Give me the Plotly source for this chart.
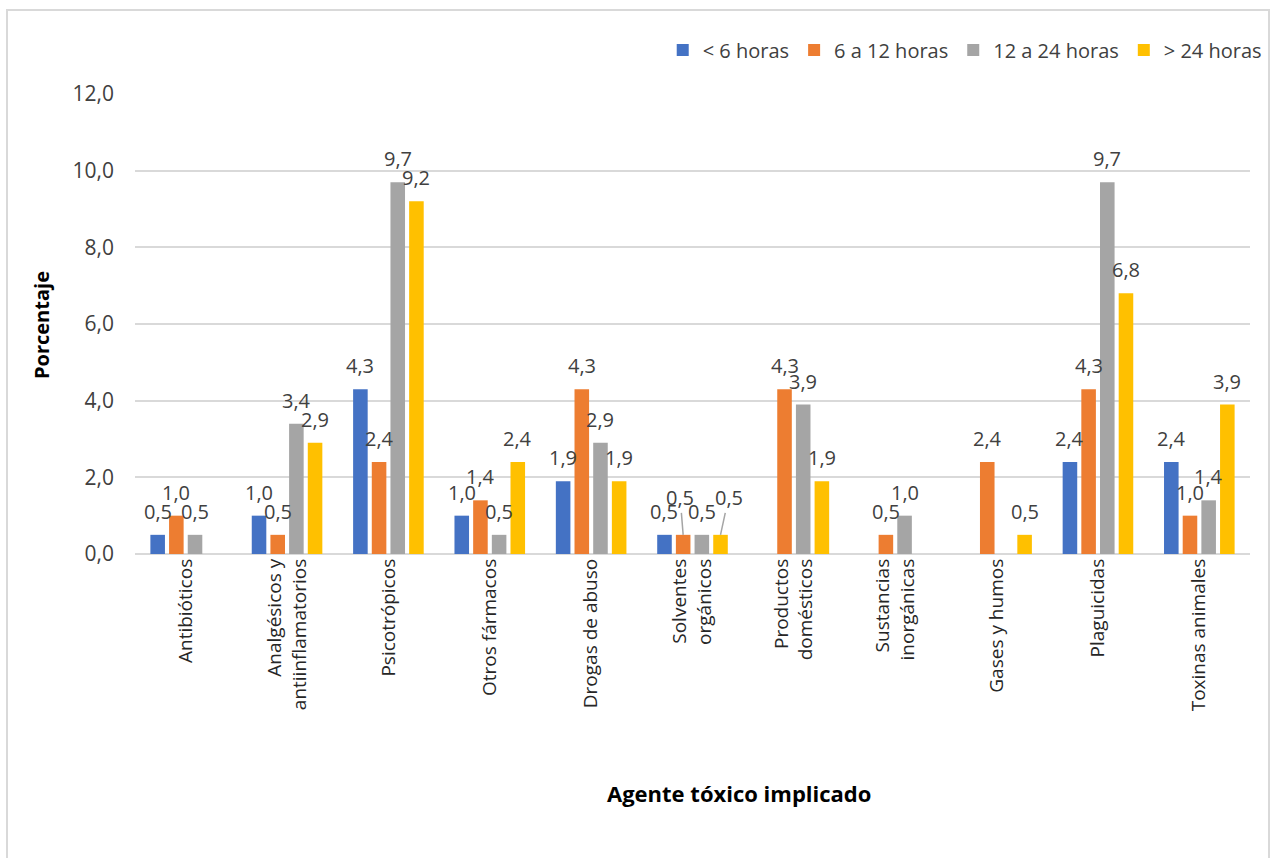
import plotly.graph_objects as go

# Agentes tóxicos (eje X) y porcentaje por tiempo de evolución
agentes = [
    "Antibióticos",
    "Analgésicos y<br>antiinflamatorios",
    "Psicotrópicos",
    "Otros fármacos",
    "Drogas de abuso",
    "Solventes<br>orgánicos",
    "Productos<br>domésticos",
    "Sustancias<br>inorgánicas",
    "Gases y humos",
    "Plaguicidas",
    "Toxinas animales",
]

menos_6h = [0.5, 1.0, 4.3, 1.0, 1.9, 0.5, None, None, None, 2.4, 2.4]
de_6_a_12h = [1.0, 0.5, 2.4, 1.4, 4.3, 0.5, 4.3, 0.5, 2.4, 4.3, 1.0]
de_12_a_24h = [0.5, 3.4, 9.7, 0.5, 2.9, 0.5, 3.9, 1.0, None, 9.7, 1.4]
mas_24h = [None, 2.9, 9.2, 2.4, 1.9, 0.5, 1.9, None, 0.5, 6.8, 3.9]

series = [
    ("< 6 horas", menos_6h, "#4472C4"),
    ("6 a 12 horas", de_6_a_12h, "#ED7D31"),
    ("12 a 24 horas", de_12_a_24h, "#A5A5A5"),
    ("> 24 horas", mas_24h, "#FFC000"),
]

y_ticks = [0, 2, 4, 6, 8, 10, 12]
y_tick_text = ["0,0", "2,0", "4,0", "6,0", "8,0", "10,0", "12,0"]

# Labels moved off their bar (series index, category index) -> (dx, dy) px,
# drawn with a leader line back to the bar top
label_moves = {
    (1, 5): (-3, -37),
    (3, 5): (8, -37),
}

FONT = "Open Sans"
TXT = "#404040"
BARGAP = 0.263
BARGROUPGAP = 0.22


def etiqueta(v):
    return f"{v:.1f}".replace(".", ",")


fig = go.Figure()
for nombre, valores, color in series:
    fig.add_trace(go.Bar(
        name=nombre,
        x=agentes,
        y=valores,
        marker=dict(color=color, line=dict(width=0)),
        cliponaxis=False,
    ))

# Data labels placed above each bar slot of the grouped layout
slot = (1 - BARGAP) / len(series)
labels = []
for k, (_, valores, _) in enumerate(series):
    for i, v in enumerate(valores):
        if v is None:
            continue
        xpos = i + (k - (len(series) - 1) / 2) * slot
        if (k, i) in label_moves:
            dx, dy = label_moves[(k, i)]
            labels.append(dict(
                x=xpos, y=v, xref="x", yref="y", text=etiqueta(v),
                showarrow=True, arrowhead=0, arrowwidth=1.5,
                arrowcolor="#A5A5A5", ax=dx, ay=dy, standoff=0,
                font=dict(family=FONT, size=20, color=TXT),
            ))
        else:
            labels.append(dict(
                x=xpos, y=v, xref="x", yref="y", text=etiqueta(v),
                showarrow=False, yanchor="bottom", yshift=8,
                font=dict(family=FONT, size=20, color=TXT),
            ))

# Plot area: x 135..1250 px, y 94 (12,0) .. 554 (0,0)
L, R, T, B = 135, 27, 94, 304
W, H = 1277, 858
pw, ph = W - L - R, H - T - B


def px_x(x):
    return (x - L) / pw


def px_y(y):
    return (H - B - y) / ph


fig.update_layout(
    width=W, height=H,
    margin=dict(l=L, r=R, t=T, b=B, autoexpand=False),
    paper_bgcolor="white",
    plot_bgcolor="white",
    barmode="group",
    bargap=BARGAP,
    bargroupgap=BARGROUPGAP,
    font=dict(family=FONT, color=TXT),
    showlegend=True,
    legend=dict(
        orientation="h",
        x=1.015, xanchor="right",
        y=px_y(50), yanchor="middle",
        font=dict(family=FONT, size=20, color=TXT),
        itemwidth=30,
        tracegroupgap=0,
        itemclick=False,
    ),
    xaxis=dict(
        type="category",
        tickangle=-90,
        tickfont=dict(family=FONT, size=19, color="#262626"),
        showgrid=False,
        showline=False,
        ticks="",
        fixedrange=True,
    ),
    yaxis=dict(
        range=[0, 12],
        tickvals=y_ticks,
        ticktext=y_tick_text,
        tickfont=dict(family=FONT, size=21, color=TXT),
        showgrid=True,
        gridcolor="#D9D9D9",
        gridwidth=2,
        zeroline=True,
        zerolinecolor="#D9D9D9",
        zerolinewidth=2,
        showline=False,
        ticks="",
        ticklabelstandoff=20,
        fixedrange=True,
    ),
    annotations=labels + [
        dict(text="<b>Porcentaje</b>", xref="paper", yref="paper",
             x=px_x(41), y=px_y(325), xanchor="center", yanchor="middle",
             textangle=-90, showarrow=False,
             font=dict(family=FONT, size=20, color="black")),
        dict(text="<b>Agente tóxico implicado</b>", xref="paper", yref="paper",
             x=px_x(739), y=px_y(793), xanchor="center", yanchor="middle",
             showarrow=False,
             font=dict(family=FONT, size=22, color="black")),
    ],
    shapes=[
        dict(type="rect", xref="paper", yref="paper",
             x0=px_x(7), x1=px_x(1269), y0=px_y(870), y1=px_y(10),
             line=dict(color="#D9D9D9", width=2), fillcolor="rgba(0,0,0,0)",
             layer="below"),
    ],
)

fig.write_html("out.html")
